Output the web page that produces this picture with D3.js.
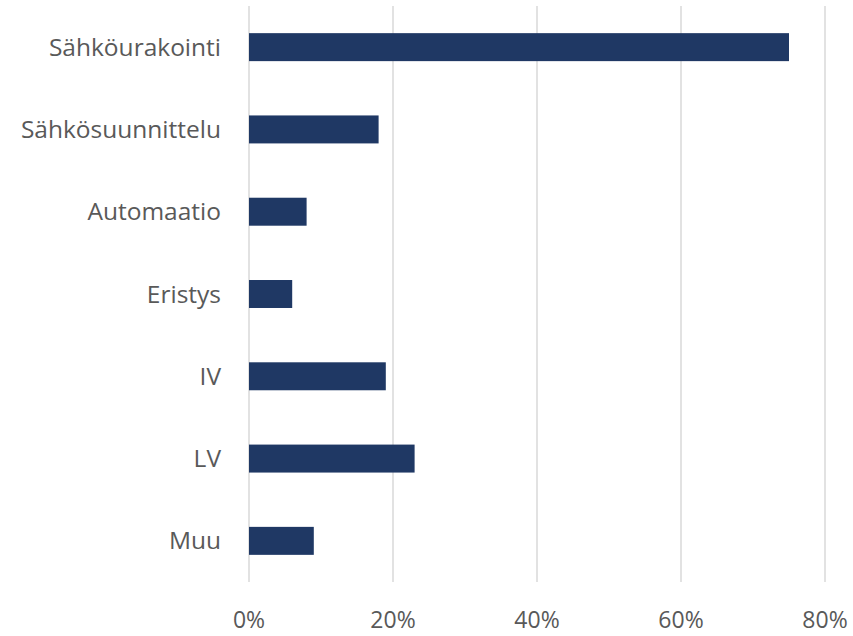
<!DOCTYPE html>
<html>
<head>
<meta charset="utf-8">
<script src="https://cdn.jsdelivr.net/npm/d3@7"></script>
<style>
  body { margin: 0; background: #fff; }
  text { font-family: "Open Sans", sans-serif; fill: #595959; }
</style>
</head>
<body>
<div id="chart"></div>
<script>
// data
const categories = ["Sähköurakointi", "Sähkösuunnittelu", "Automaatio", "Eristys", "IV", "LV", "Muu"];
const shares = [0.75, 0.18, 0.08, 0.06, 0.19, 0.23, 0.09];
const ticks = [0, 0.2, 0.4, 0.6, 0.8];

let width = 853, height = 636;
let margin = {top: 6, right: 28, bottom: 54, left: 249};

let svg = d3.select("#chart").append("svg")
    .attr("width", width)
    .attr("height", height);

let x = d3.scaleLinear()
    .domain([0, 0.8])
    .range([margin.left, width - margin.right]);

let y = d3.scaleBand()
    .domain(categories)
    .range([margin.top, height - margin.bottom])
    .paddingInner(0.66)
    .paddingOuter(0.33);

// gridlines
svg.append("g")
    .selectAll("line")
    .data(ticks)
    .enter().append("line")
    .attr("x1", d => x(d)).attr("x2", d => x(d))
    .attr("y1", margin.top).attr("y2", height - margin.bottom)
    .style("stroke", "#d9d9d9")
    .style("stroke-width", 1.5);

// bars
svg.append("g")
    .selectAll("rect")
    .data(categories)
    .enter().append("rect")
    .attr("x", x(0))
    .attr("y", d => y(d))
    .attr("width", (d, i) => x(shares[i]) - x(0))
    .attr("height", y.bandwidth())
    .style("fill", "#1f3864");

// category labels
svg.append("g")
    .selectAll("text")
    .data(categories)
    .enter().append("text")
    .attr("x", margin.left - 28)
    .attr("y", d => y(d) + y.bandwidth() / 2)
    .attr("dy", "0.35em")
    .attr("text-anchor", "end")
    .style("font-size", "24.5px")
    .text(d => d);

// x tick labels
let format = d3.format(".0%");
svg.append("g")
    .selectAll("text")
    .data(ticks)
    .enter().append("text")
    .attr("x", d => x(d))
    .attr("y", 620)
    .attr("dy", "0.35em")
    .attr("text-anchor", "middle")
    .style("font-size", "23px")
    .text(d => format(d));
</script>
</body>
</html>
